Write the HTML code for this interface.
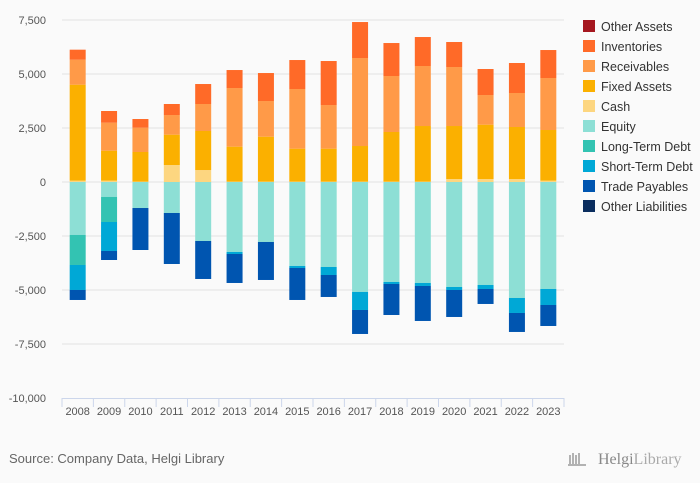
<!DOCTYPE html>
<html><head><meta charset="utf-8"><style>
body{margin:0;background:#fafafa;width:700px;height:483px;overflow:hidden;font-family:"Liberation Sans",sans-serif}
svg{position:absolute;left:0;top:0}
</style></head><body>
<svg id="chart" width="700" height="483" xmlns="http://www.w3.org/2000/svg">
<g id="grid"></g>
<g id="bars"></g>
<g id="axes"></g>
<g id="legend"></g>
<text x="9" y="463" font-size="13" fill="#666">Source: Company Data, Helgi Library</text>
<g>
<path d="M570 464 L570 455 M573 464 L573 453 M576 464 L576 455 M579 464 L579 453 M568 465 L586 465" stroke="#999" stroke-width="1.5" fill="none"/>
<text x="598" y="464" font-size="16" fill="#888" font-family="Liberation Serif, serif">Helgi<tspan fill="#aaa">Library</tspan></text>
</g>
</svg>
<script>
const years=["2008","2009","2010","2011","2012","2013","2014","2015","2016","2017","2018","2019","2020","2021","2022","2023"];
const yTicks=[7500,5000,2500,0,-2500,-5000,-7500,-10000];
const yTickLabels=["7,500","5,000","2,500","0","-2,500","-5,000","-7,500","-10,000"];
const otherAssets=[0,0,0,0,0,0,0,0,0,0,0,0,0,0,0,0];
const cash=[62,62,20,787,555,20,20,20,20,20,20,20,139,139,139,62];
const fixedAssets=[4444,1388,1369,1404,1806,1616,2078,1523,1523,1646,2295,2572,2453,2515,2407,2345];
const receivables=[1157,1297,1126,910,1250,2715,1651,2762,2021,4074,2592,2778,2731,1373,1574,2407];
const inventories=[463,540,401,510,925,833,1296,1342,2037,1666,1527,1342,1158,1204,1389,1296];
const equity=[2453,694,1204,1435,2731,3240,2777,3888,3935,5092,4629,4675,4860,4768,5370,4953];
const longTermDebt=[1389,1158,0,0,0,0,0,0,0,0,0,0,0,0,0,0];
const shortTermDebt=[1157,1342,0,0,0,93,0,93,370,833,92,139,139,185,694,741];
const tradePayables=[463,417,1944,2361,1759,1342,1759,1481,1018,1111,1436,1620,1250,694,879,972];
const otherLiabilities=[0,0,0,0,0,0,0,0,0,0,0,0,0,0,0,0];
const NS="http://www.w3.org/2000/svg";
const L=62,R=564,T=20,B=398,yMax=7500,yMin=-10000;
const slot=(R-L)/years.length,bw=16;
function y(v){return T+(yMax-v)/(yMax-yMin)*(B-T);}
function xc(i){return L+slot*(i+0.5);}
function mk(tag,attrs,parent){const e=document.createElementNS(NS,tag);for(const k in attrs)e.setAttribute(k,attrs[k]);parent.appendChild(e);return e;}
const grid=document.getElementById('grid'),axes=document.getElementById('axes'),bars=document.getElementById('bars'),legend=document.getElementById('legend');
yTicks.forEach((t,i)=>{
 if(t!==yMin){const g=mk('line',{x1:L,x2:R,y1:y(t),y2:y(t),stroke:'#e3e3e3','stroke-width':1},grid);
 
 }
 const tx=mk('text',{x:46,y:y(t)+4,'text-anchor':'end','font-size':11,fill:'#555'},axes);tx.textContent=yTickLabels[i];
 
 
});
const ax=mk('line',{x1:L,x2:R,y1:B+0.5,y2:B+0.5,stroke:'#ccd6eb'},axes);


for(let i=0;i<=years.length;i++){const tk=mk('line',{x1:L+slot*i,x2:L+slot*i,y1:B,y2:B+9,stroke:'#ccd6eb'},axes);
 
 }
years.forEach((yr,i)=>{const tx=mk('text',{x:xc(i),y:B+17,'text-anchor':'middle','font-size':11,fill:'#555'},axes);tx.textContent=yr;
 
 });
const pos=[[cash,'#fdd680','cash'],[fixedAssets,'#fbb000','fixed-assets'],[receivables,'#ff9a48','receivables'],[inventories,'#ff6a28','inventories'],[otherAssets,'#a5171f','other-assets']];
const neg=[[equity,'#8ddfd5','equity'],[longTermDebt,'#33c3b2','long-term-debt'],[shortTermDebt,'#00a8d6','short-term-debt'],[tradePayables,'#0055b0','trade-payables'],[otherLiabilities,'#0a2d5e','other-liabilities']];
years.forEach((yr,i)=>{
 let acc=0;
 pos.forEach(([arr,c,n])=>{const v=arr[i];if(v<=0)return;const r=mk('rect',{x:xc(i)-bw/2,y:y(acc+v),width:bw,height:y(acc)-y(acc+v),fill:c},bars);
  
  
  acc+=v;});
 acc=0;
 neg.forEach(([arr,c,n])=>{const v=arr[i];if(v<=0)return;const r=mk('rect',{x:xc(i)-bw/2,y:y(acc),width:bw,height:y(acc-v)-y(acc),fill:c},bars);
  
  
  acc-=v;});
});
const leg=[['Other Assets','#a5171f'],['Inventories','#ff6a28'],['Receivables','#ff9a48'],['Fixed Assets','#fbb000'],['Cash','#fdd680'],['Equity','#8ddfd5'],['Long-Term Debt','#33c3b2'],['Short-Term Debt','#00a8d6'],['Trade Payables','#0055b0'],['Other Liabilities','#0a2d5e']];
leg.forEach(([n,c],i)=>{const g=mk('g',{},legend);
 
 
 mk('rect',{x:583,y:20+i*20,width:12,height:12,fill:c},g);
 const t=mk('text',{x:601,y:31+i*20,'font-size':12.5,fill:'#333'},g);t.textContent=n;});
</script>
</body></html>
